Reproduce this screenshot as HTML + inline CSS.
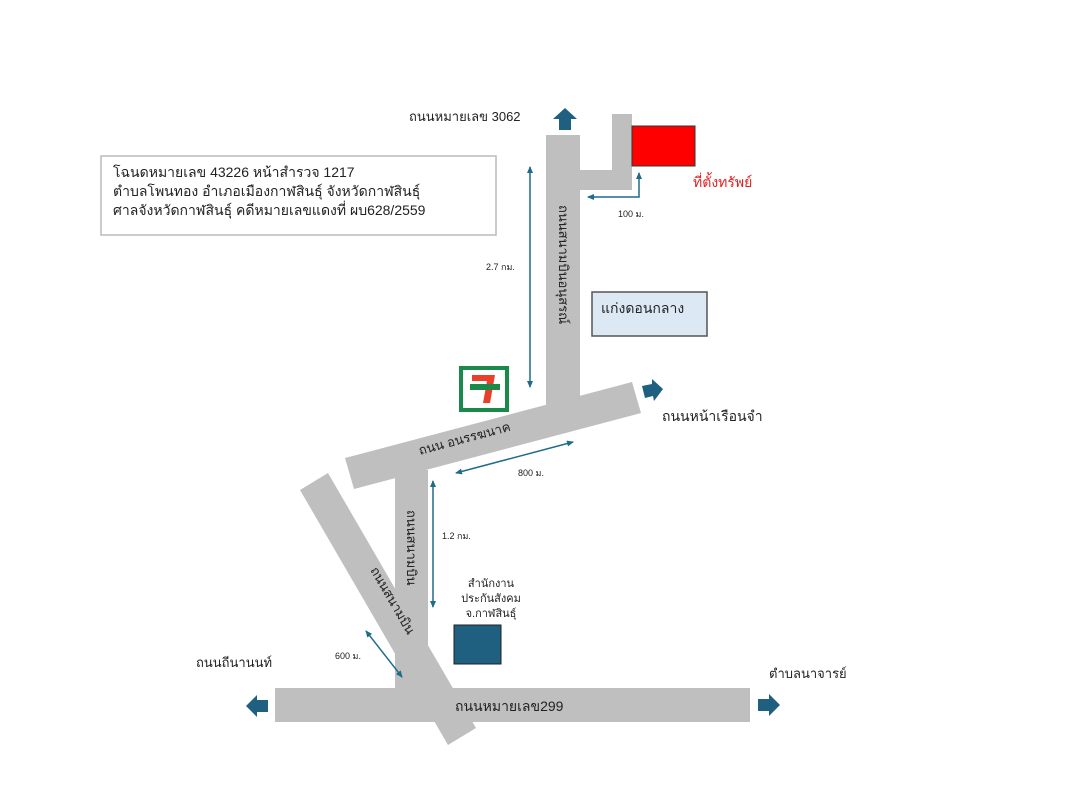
<!DOCTYPE html>
<html><head><meta charset="utf-8"><style>
html,body{margin:0;padding:0;background:#fff;}
svg{display:block;}
text{font-family:"Liberation Sans","DejaVu Sans",sans-serif;}
</style></head><body>
<svg width="1070" height="800" viewBox="0 0 1070 800" xmlns="http://www.w3.org/2000/svg">
<defs>
<marker id="ah" markerWidth="8" markerHeight="8" refX="6" refY="4" orient="auto-start-reverse" markerUnits="userSpaceOnUse">
<path d="M0,1 L7,4 L0,7 z" fill="#1f6b8a"/></marker>
</defs>
<!-- roads -->
<g fill="#bfbfbf">
<rect x="546" y="135" width="34" height="270"/>
<rect x="612" y="114" width="20" height="76"/>
<rect x="580" y="170" width="52" height="20"/>
<polygon points="345,458 632,382 641,413 354,489"/>
<rect x="395" y="470" width="33" height="222"/>
<polygon points="300,490 328,473 476,728 448,745"/>
<rect x="275" y="688" width="475" height="34"/>
</g>
<!-- road arrows -->
<g fill="#1f5f7f">
<polygon points="565,108 577,119 571,119 571,130 559,130 559,119 553,119"/>
<polygon points="663,389 652,379 652,384 642,386 645,398 653,396 654,401"/>
<polygon points="246,706 257,695 257,700 268,700 268,712 257,712 257,717"/>
<polygon points="780,705 769,694 769,699 758,699 758,711 769,711 769,716"/>
</g>
<!-- boxes -->
<rect x="632" y="126" width="63" height="40" fill="#ff0000" stroke="#333" stroke-width="1"/>
<rect x="101" y="156" width="395" height="79" fill="#fff" stroke="#bbb" stroke-width="1.5"/>
<rect x="592" y="292" width="115" height="44" fill="#dce9f5" stroke="#555" stroke-width="1.5"/>
<rect x="454" y="625" width="47" height="39" fill="#1f5f7f" stroke="#222" stroke-width="1"/>
<!-- 7-11 -->
<rect x="461" y="368" width="46" height="42" fill="#fff" stroke="#1a8a4a" stroke-width="4"/>
<polygon points="472,375 495,375 490,403 483,403 487,381 472,381" fill="#e8402a"/>
<rect x="470" y="384" width="30" height="6" fill="#1a8a4a"/>
<!-- distance lines -->
<g stroke="#1f6b8a" stroke-width="1.5" fill="none">
<line x1="530" y1="167" x2="530" y2="387" marker-start="url(#ah)" marker-end="url(#ah)"/>
<line x1="433" y1="481" x2="433" y2="607" marker-start="url(#ah)" marker-end="url(#ah)"/>
<line x1="456" y1="473" x2="573" y2="442" marker-start="url(#ah)" marker-end="url(#ah)"/>
<line x1="366" y1="631" x2="402" y2="677" marker-start="url(#ah)" marker-end="url(#ah)"/>
<polyline points="639,173 639,197 588,197" marker-start="url(#ah)" marker-end="url(#ah)"/>
</g>
<!-- text -->
<g font-size="13" fill="#222">
<text x="409" y="121">ถนนหมายเลข 3062</text>
<text x="113" y="177" font-size="14">โฉนดหมายเลข 43226 หน้าสำรวจ 1217</text>
<text x="113" y="196" font-size="14">ตำบลโพนทอง อำเภอเมืองกาฬสินธุ์ จังหวัดกาฬสินธุ์</text>
<text x="113" y="215" font-size="14">ศาลจังหวัดกาฬสินธุ์ คดีหมายเลขแดงที่ ผบ628/2559</text>
<text x="693" y="187" fill="#e02020" font-size="14">ที่ตั้งทรัพย์</text>
<text x="618" y="217" font-size="9">100 ม.</text>
<text x="486" y="270" font-size="9">2.7 กม.</text>
<text x="601" y="313" font-size="14">แก่งดอนกลาง</text>
<text x="662" y="421" font-size="14">ถนนหน้าเรือนจำ</text>
<text x="518" y="476" font-size="9">800 ม.</text>
<text x="442" y="539" font-size="9">1.2 กม.</text>
<text x="335" y="659" font-size="9">600 ม.</text>
<text x="196" y="667">ถนนถีนานนท์</text>
<text x="769" y="678">ตำบลนาจารย์</text>
<text x="455" y="711" font-size="14">ถนนหมายเลข299</text>
<text x="491" y="587" font-size="11" text-anchor="middle">สำนักงาน</text>
<text x="491" y="602" font-size="11" text-anchor="middle">ประกันสังคม</text>
<text x="491" y="617" font-size="11" text-anchor="middle">จ.กาฬสินธุ์</text>
<text transform="translate(420,455) rotate(-15)" font-size="13">ถนน อนรรฆนาค</text>
<text transform="translate(559,205) rotate(90)" font-size="13">ถนนสนามบินอนุสรณ์</text>
<text transform="translate(407,510) rotate(90)" font-size="13">ถนนสนามบิน</text>
<text transform="translate(370,570) rotate(60)" font-size="13">ถนนสนามบิน</text>
</g>
</svg>
</body></html>
